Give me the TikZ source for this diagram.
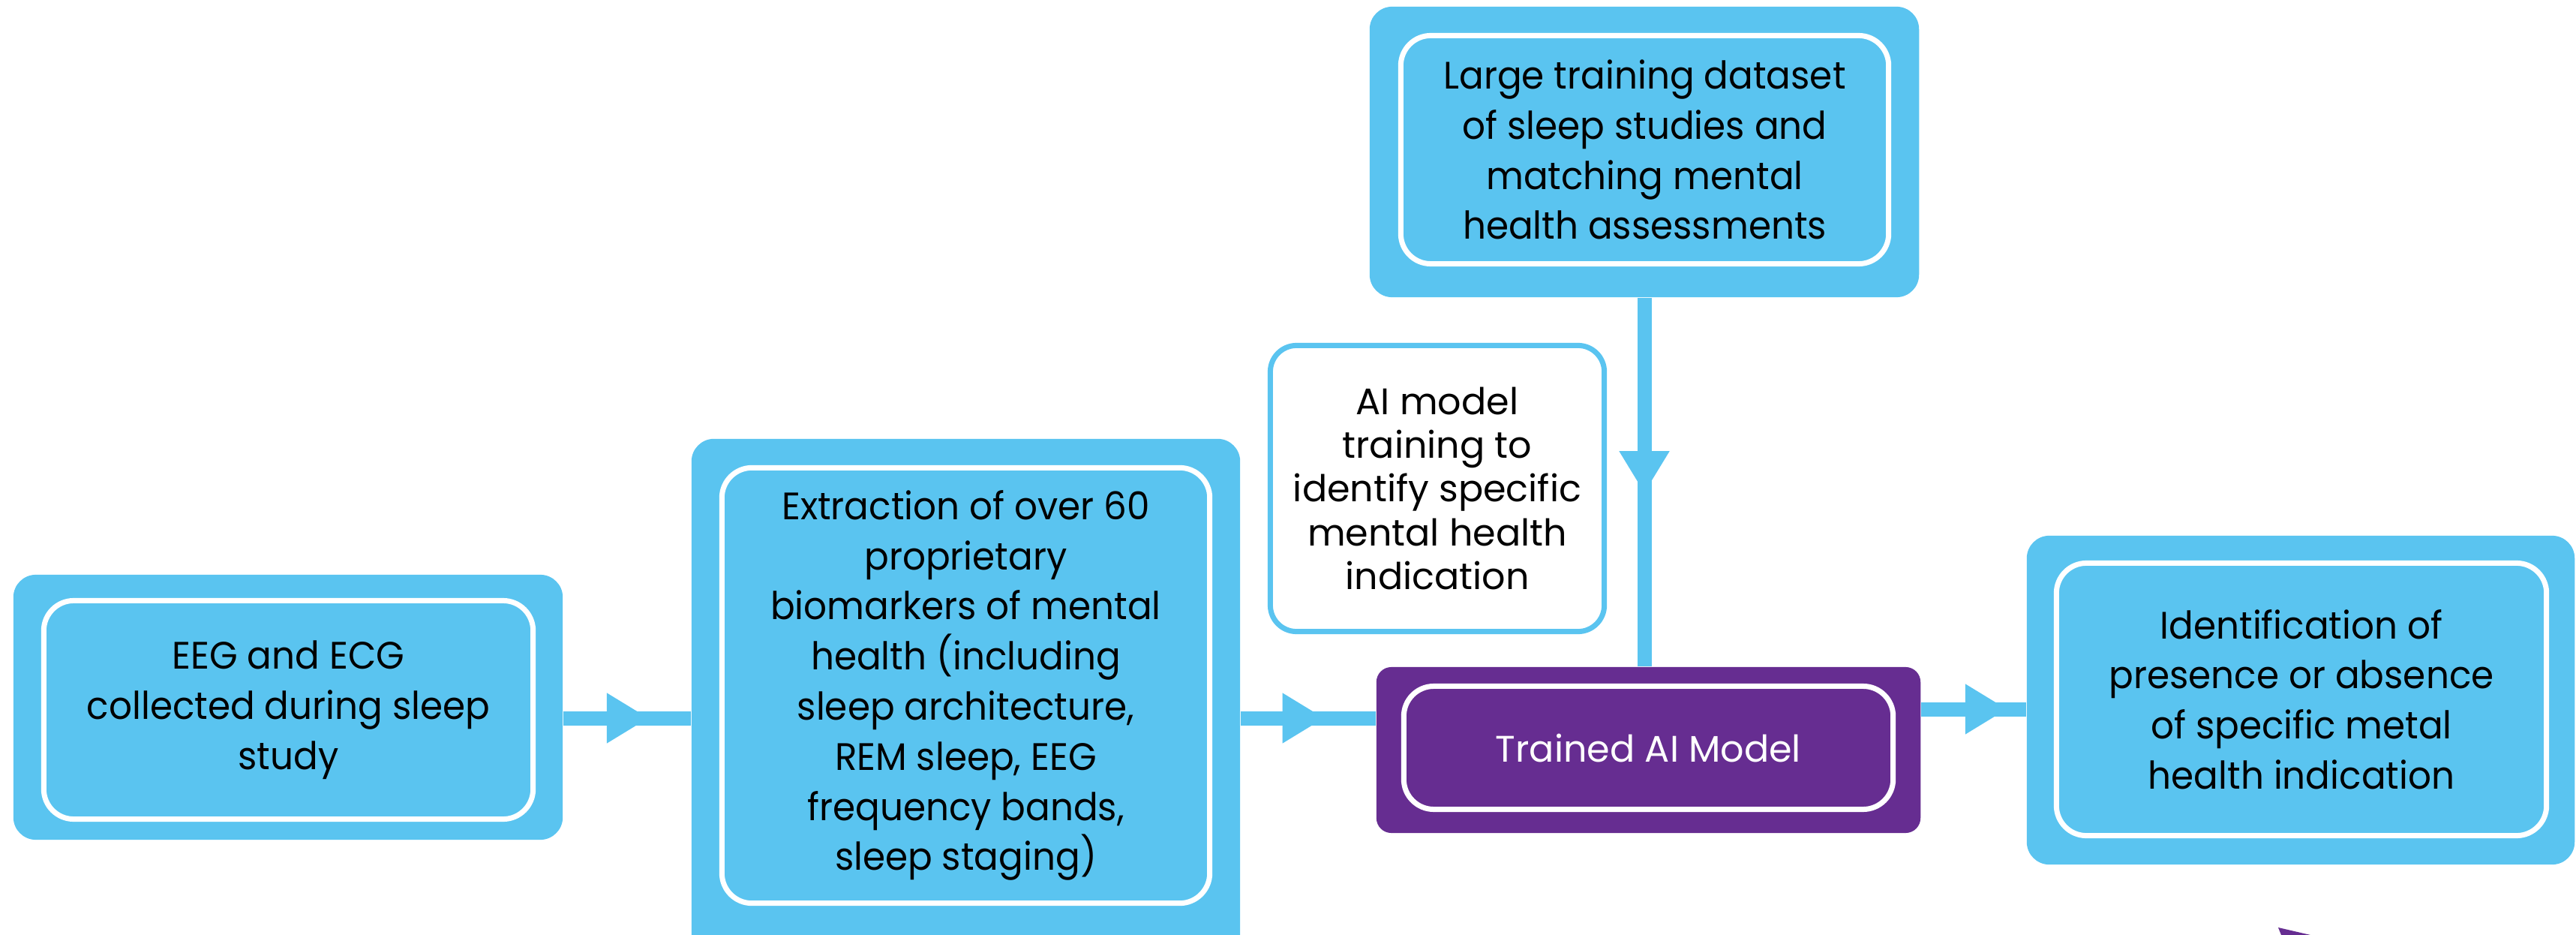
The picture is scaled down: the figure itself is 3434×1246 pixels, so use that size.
\documentclass[tikz,border=0pt]{standalone}
\usepackage{fontspec}
\setmainfont{Poppins}
\newfontfamily\boxfont[FakeStretch=0.95]{Poppins}
\usepackage{tikz}
\usetikzlibrary{arrows.meta,decorations.markings}
\definecolor{skyblue}{HTML}{5AC4F0}
\definecolor{violetc}{HTML}{662D91}
\tikzset{
  outerbox/.style={fill=skyblue, draw=none, rounded corners=0.3cm, inner sep=0pt},
  innerbox/.style={draw=white, line width=0.07cm, rounded corners=0.4cm, inner sep=0pt,
    align=center, font=\boxfont\fontsize{14.5}{19}\selectfont},
  modelbox/.style={fill=violetc, draw=none, rounded corners=0.2cm, inner sep=0pt},
  trainbox/.style={draw=skyblue, fill=white, line width=0.07cm, rounded corners=0.35cm,
    inner sep=0pt, align=center, font=\fontsize{14}{16.6}\selectfont},
  flow/.style={skyblue, line width=0.19cm,
    decoration={markings, mark=at position #1 with
      {\arrow{Triangle[length=0.56cm,width=0.63cm]}}},
    postaction={decorate}}
}

\begin{document}
\begin{tikzpicture}[x=0.01cm, y=-0.01cm]
\clip (0,0) rectangle (3434,1246);

% input box
\node[outerbox, minimum width=7.32cm, minimum height=3.53cm] (eeg) at (384,942.5) {};
\node[innerbox, minimum width=6.52cm, minimum height=2.91cm] (eegin) at (384.5,946)
{EEG and ECG\\ collected during sleep\\ study};

% biomarker box
\node[outerbox, minimum width=7.31cm, minimum height=7.05cm] (extr) at (1287.5,937.5) {};
\node[innerbox, minimum width=6.5cm, minimum height=5.8cm] (extrin) at (1287.5,913.5)
{Extraction of over 60\\ proprietary\\ biomarkers of mental\\ health (including\\
sleep architecture,\\ REM sleep, EEG\\ frequency bands,\\ sleep staging)};

% dataset box
\node[outerbox, minimum width=7.32cm, minimum height=3.87cm] (data) at (2192,202.5) {};
\node[innerbox, minimum width=6.5cm, minimum height=3.04cm] (datain) at (2192.5,199.5)
{Large training dataset\\ of sleep studies and\\ matching mental\\ health assessments};

% training note
\node[trainbox, minimum width=4.45cm, minimum height=3.81cm] (train) at (1916,651)
{AI model\\ training to\\ identify specific\\ mental health\\ indication};

% model box
\node[modelbox, minimum width=7.25cm, minimum height=2.21cm] (model) at (2197.5,999.5) {};
\node[innerbox, text=white, font=\fontsize{14}{19}\selectfont,
  minimum width=6.52cm, minimum height=1.64cm] (modelin) at (2197.5,996.5)
{Trained AI Model};

% result box
\node[outerbox, minimum width=7.3cm, minimum height=4.38cm] (result) at (3067,933) {};
\node[innerbox, minimum width=6.53cm, minimum height=3.63cm] (resultin) at (3068,932)
{Identification of\\ presence or absence\\ of specific metal\\ health indication};

\draw[flow=0.67] (eeg.east |- 0,957) -- (extr.west |- 0,957);
\draw[flow=0.62] (extr.east |- 0,957) -- (model.west |- 0,957);
\draw[flow=0.82] (model.east |- 0,945) -- (result.west |- 0,945);
\draw[flow=0.53] (data.south) -- (data.south |- model.north);

\fill[violetc] (3037,1236) -- (3080,1246) -- (3041,1246) -- cycle;
\end{tikzpicture}
\end{document}
